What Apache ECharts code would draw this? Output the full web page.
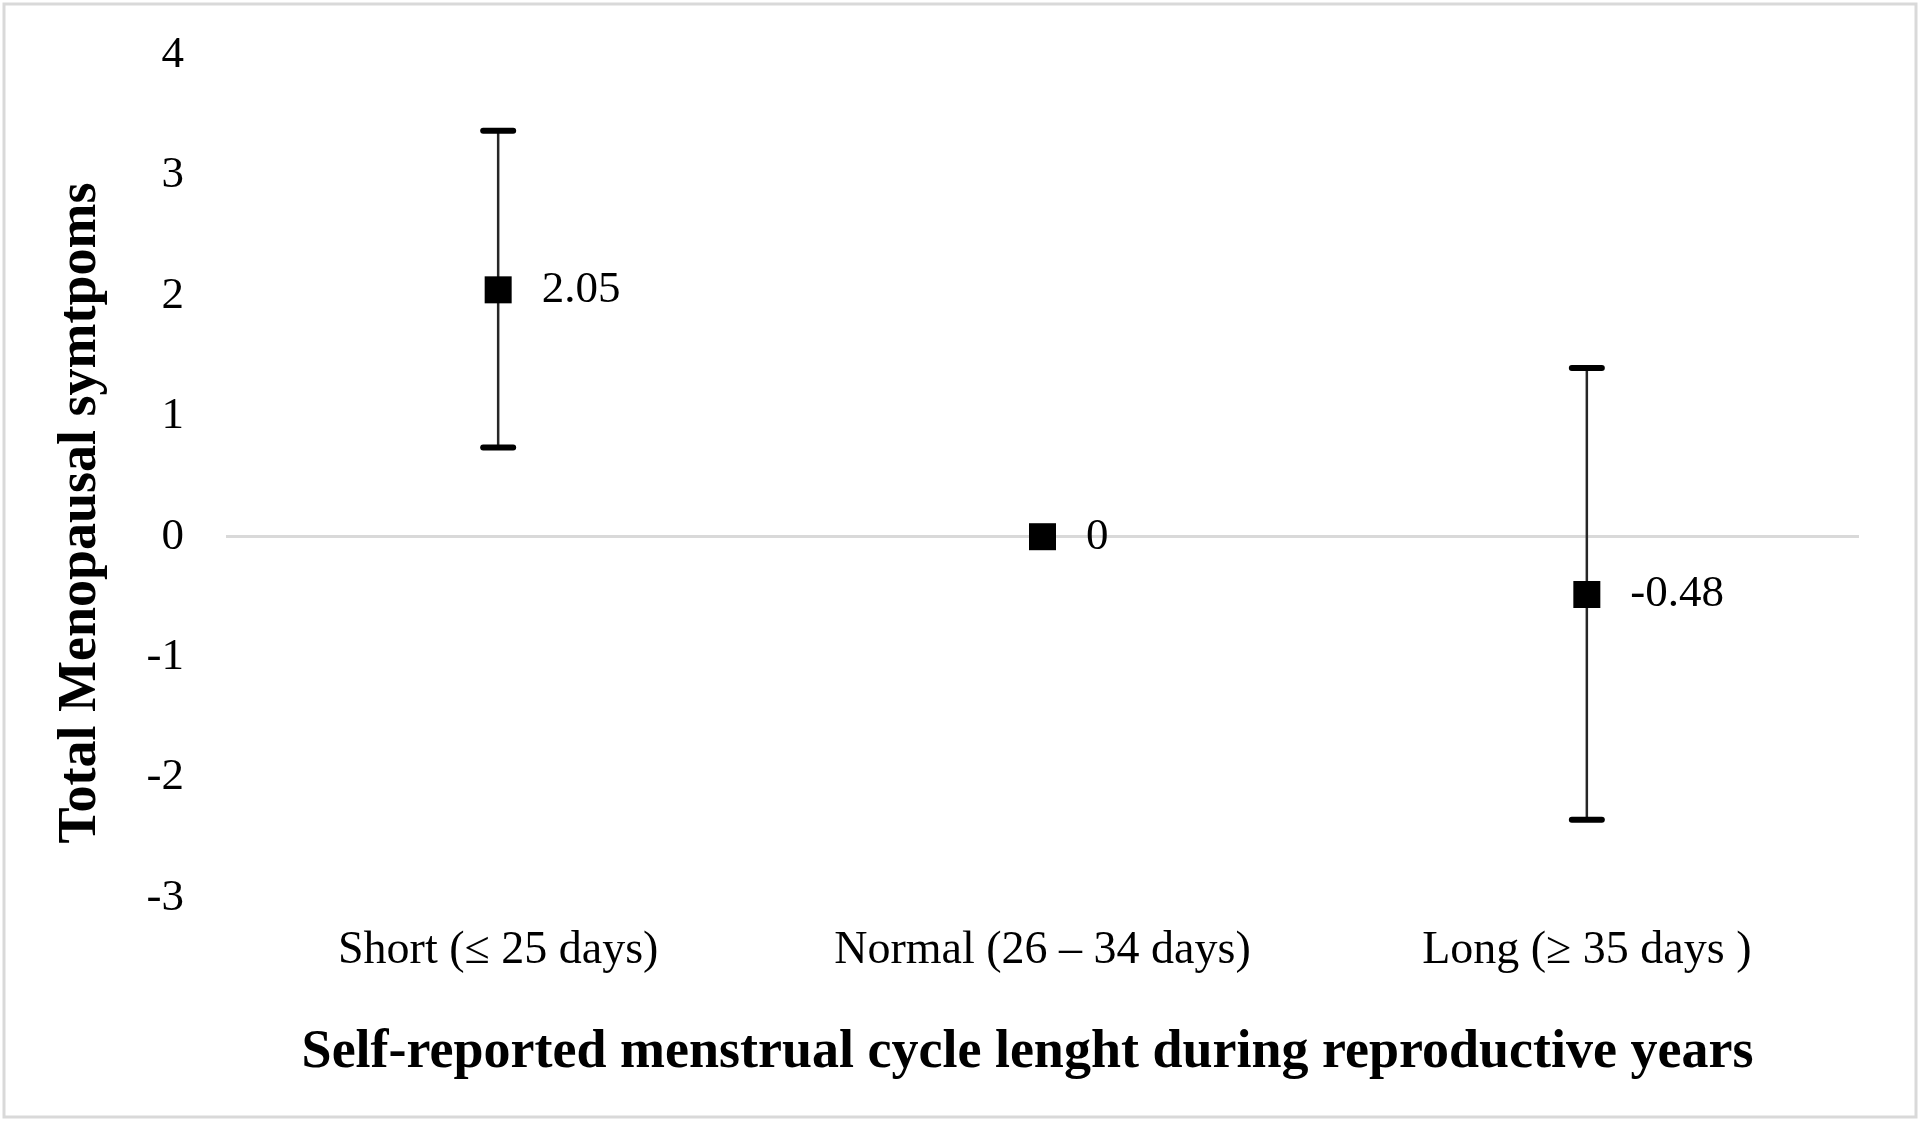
<!DOCTYPE html>
<html>
<head>
<meta charset="utf-8">
<script src="https://cdn.jsdelivr.net/npm/echarts@6/dist/echarts.min.js"></script>
<style>
html,body{margin:0;padding:0;background:#fff;}
#chart{width:1920px;height:1122px;}
</style>
</head>
<body>
<div id="chart"></div>
<script>
const categories = ['Short (\u2264 25 days)', 'Normal (26 \u2013 34 days)', 'Long (\u2265 35 days )'];
const means = [2.05, 0, -0.48];
const lowerCI = [0.74, null, -2.35];
const upperCI = [3.37, null, 1.40];
const yTicks = { min: -3, max: 4, interval: 1 };
const xTitle = 'Self-reported menstrual cycle lenght during reproductive years';
const yTitle = 'Total Menopausal symtpoms';

const FONT = '"Liberation Serif", "Times New Roman", serif';

const errData = categories.map((c, i) => [i, lowerCI[i], upperCI[i]]).filter(d => d[1] !== null);

const chart = echarts.init(document.getElementById('chart'));
chart.setOption({
  backgroundColor: '#fff',
  animation: false,
  graphic: [{
    type: 'rect',
    shape: { x: 4, y: 4, width: 1912, height: 1113 },
    style: { fill: 'none', stroke: '#d9d9d9', lineWidth: 3 },
    silent: true
  }],
  grid: { left: 226, right: 61, top: 55, bottom: 224 },
  xAxis: {
    type: 'category',
    data: categories,
    boundaryGap: true,
    axisLine: { show: false },
    axisTick: { show: false },
    axisLabel: { fontFamily: FONT, fontSize: 46, color: '#000', margin: 30 },
    name: xTitle,
    nameLocation: 'middle',
    nameGap: 128,
    nameTextStyle: { fontFamily: FONT, fontSize: 54, fontWeight: 'bold', color: '#000', padding: [0, 30, 0, 0] }
  },
  yAxis: {
    type: 'value',
    min: yTicks.min,
    max: yTicks.max,
    interval: yTicks.interval,
    axisLine: { show: false },
    axisTick: { show: false },
    splitLine: { show: false },
    axisLabel: { fontFamily: FONT, fontSize: 45, color: '#000', margin: 42 },
    name: yTitle,
    nameLocation: 'middle',
    nameRotate: 90,
    nameGap: 118,
    nameTextStyle: { fontFamily: FONT, fontSize: 54, fontWeight: 'bold', color: '#000', padding: [0, 73, 0, 0] }
  },
  series: [
    {
      type: 'custom',
      name: 'CI',
      data: errData,
      z: 2,
      renderItem: function (params, api) {
        const x = api.value(0);
        const lo = api.coord([x, api.value(1)]);
        const hi = api.coord([x, api.value(2)]);
        const cap = 15;
        return {
          type: 'group',
          children: [
            { type: 'line', shape: { x1: lo[0], y1: lo[1], x2: hi[0], y2: hi[1] }, style: { stroke: '#262626', lineWidth: 2.5 } },
            { type: 'line', shape: { x1: hi[0] - cap, y1: hi[1], x2: hi[0] + cap, y2: hi[1] }, style: { stroke: '#000', lineWidth: 6, lineCap: 'round' } },
            { type: 'line', shape: { x1: lo[0] - cap, y1: lo[1], x2: lo[0] + cap, y2: lo[1] }, style: { stroke: '#000', lineWidth: 6, lineCap: 'round' } }
          ]
        };
      }
    },
    {
      type: 'scatter',
      name: 'Mean',
      data: means,
      z: 3,
      symbol: 'rect',
      symbolSize: 27,
      itemStyle: { color: '#000', opacity: 1 },
      label: {
        show: true,
        position: 'right',
        distance: 30,
        fontFamily: FONT,
        fontSize: 45,
        color: '#000',
        opacity: 1,
        formatter: p => String(p.value)
      },
      markLine: {
        silent: true,
        symbol: 'none',
        label: { show: false },
        lineStyle: { color: '#d9d9d9', width: 3, type: 'solid', opacity: 1 },
        data: [{ yAxis: 0 }],
        z: 1
      }
    }
  ]
});
</script>
</body>
</html>
